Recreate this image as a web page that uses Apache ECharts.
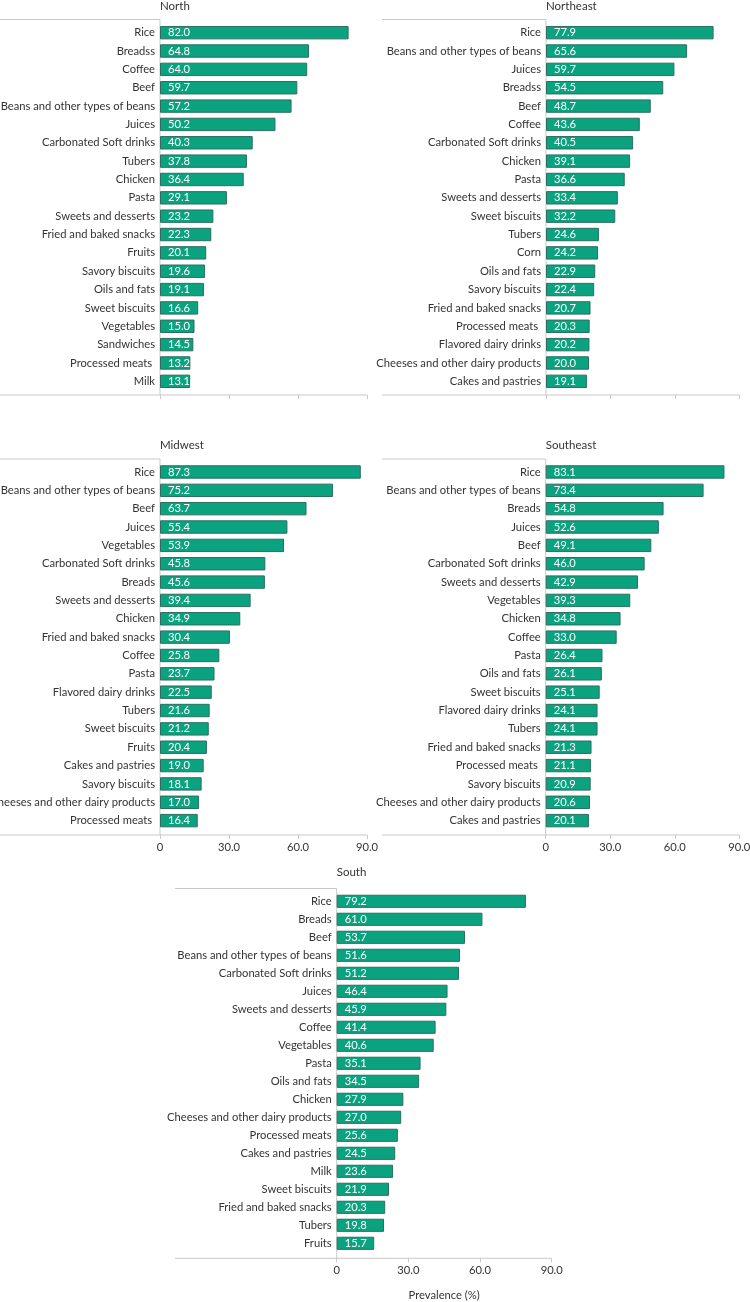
<!DOCTYPE html>
<html>
<head>
<meta charset="utf-8">
<script src="https://cdn.jsdelivr.net/npm/echarts@6/dist/echarts.min.js"></script>
<style>html,body{margin:0;padding:0;background:#fff}#c{width:750px;height:1302px}</style>
</head>
<body>
<div id="c"></div>
<script>
const northCats = ['Rice','Breadss','Coffee','Beef','Beans and other types of beans','Juices','Carbonated Soft drinks','Tubers','Chicken','Pasta','Sweets and desserts','Fried and baked snacks','Fruits','Savory biscuits','Oils and fats','Sweet biscuits','Vegetables','Sandwiches','Processed meats ','Milk'];
const northVals = [82.0,64.8,64.0,59.7,57.2,50.2,40.3,37.8,36.4,29.1,23.2,22.3,20.1,19.6,19.1,16.6,15.0,14.5,13.2,13.1];

const northeastCats = ['Rice','Beans and other types of beans','Juices','Breadss','Beef','Coffee','Carbonated Soft drinks','Chicken','Pasta','Sweets and desserts','Sweet biscuits','Tubers','Corn','Oils and fats','Savory biscuits','Fried and baked snacks','Processed meats ','Flavored dairy drinks','Cheeses and other dairy products','Cakes and pastries'];
const northeastVals = [77.9,65.6,59.7,54.5,48.7,43.6,40.5,39.1,36.6,33.4,32.2,24.6,24.2,22.9,22.4,20.7,20.3,20.2,20.0,19.1];

const midwestCats = ['Rice','Beans and other types of beans','Beef','Juices','Vegetables','Carbonated Soft drinks','Breads','Sweets and desserts','Chicken','Fried and baked snacks','Coffee','Pasta','Flavored dairy drinks','Tubers','Sweet biscuits','Fruits','Cakes and pastries','Savory biscuits','Cheeses and other dairy products','Processed meats '];
const midwestVals = [87.3,75.2,63.7,55.4,53.9,45.8,45.6,39.4,34.9,30.4,25.8,23.7,22.5,21.6,21.2,20.4,19.0,18.1,17.0,16.4];

const southeastCats = ['Rice','Beans and other types of beans','Breads','Juices','Beef','Carbonated Soft drinks','Sweets and desserts','Vegetables','Chicken','Coffee','Pasta','Oils and fats','Sweet biscuits','Flavored dairy drinks','Tubers','Fried and baked snacks','Processed meats ','Savory biscuits','Cheeses and other dairy products','Cakes and pastries'];
const southeastVals = [83.1,73.4,54.8,52.6,49.1,46.0,42.9,39.3,34.8,33.0,26.4,26.1,25.1,24.1,24.1,21.3,21.1,20.9,20.6,20.1];

const southCats = ['Rice','Breads','Beef','Beans and other types of beans','Carbonated Soft drinks','Juices','Sweets and desserts','Coffee','Vegetables','Pasta','Oils and fats','Chicken','Cheeses and other dairy products','Processed meats','Cakes and pastries','Milk','Sweet biscuits','Fried and baked snacks','Tubers','Fruits'];
const southVals = [79.2,61.0,53.7,51.6,51.2,46.4,45.9,41.4,40.6,35.1,34.5,27.9,27.0,25.6,24.5,23.6,21.9,20.3,19.8,15.7];

const xTickLabels = ['0', '30.0', '60.0', '90.0'];
const axisMin = 0, axisMax = 90, axisInterval = 30;
const xAxisTitle = 'Prevalence (%)';

const FONT = 'Lato';
const TXT = '#333333';
const LINE = '#c9c9c9';
const BAR = '#0ba37f';
const BAR_BORDER = '#2d6e5e';
const FS = 11.2;

const panels = [
  {name:'North', cats:northCats, vals:northVals, left:160, width:207, top:23.5, height:367, lineTop:19.5, axisY:395, extLeft:0, labels:false, titleTop:0},
  {name:'Northeast', cats:northeastCats, vals:northeastVals, left:546, width:193.6, top:23.5, height:367, lineTop:19.5, axisY:395, extLeft:382, labels:false, titleTop:0},
  {name:'Midwest', cats:midwestCats, vals:midwestVals, left:160, width:207, top:462.8, height:367, lineTop:459, axisY:835, extLeft:0, labels:true, titleTop:439},
  {name:'Southeast', cats:southeastCats, vals:southeastVals, left:545.7, width:193.6, top:462.8, height:367, lineTop:459, axisY:835, extLeft:382, labels:true, titleTop:439},
  {name:'South', cats:southCats, vals:southVals, left:336.7, width:215, top:892.3, height:360, lineTop:888.5, axisY:1258.3, extLeft:175, labels:true, titleTop:866.5, xname:xAxisTitle}
];

const grid = [], xAxis = [], yAxis = [], series = [], title = [], graphic = [];
panels.forEach((p, i) => {
  grid.push({left:p.left, top:p.top, width:p.width, height:p.height, containLabel:false, outerBoundsMode:'none'});
  title.push({text:p.name, left:p.left, top:p.titleTop, padding:0, textStyle:{fontFamily:FONT, fontSize:11.5, fontWeight:'normal', color:TXT}});
  xAxis.push({
    type:'value', gridIndex:i, min:axisMin, max:axisMax, interval:axisInterval,
    offset: p.axisY - (p.top + p.height),
    axisLine:{show:false},
    axisTick:{show:true, length:4, lineStyle:{color:LINE}},
    splitLine:{show:false},
    axisLabel:{show:p.labels, margin:7, fontFamily:FONT, fontSize:FS, color:TXT,
      formatter:v => xTickLabels[Math.round((v - axisMin) / axisInterval)]},
    name:p.xname || '', nameLocation:'middle', nameGap:32,
    nameTextStyle:{fontFamily:FONT, fontSize:FS, color:TXT}
  });
  yAxis.push({
    type:'category', gridIndex:i, data:p.cats, inverse:true,
    axisLine:{show:false}, axisTick:{show:false},
    axisLabel:{margin:5, fontFamily:FONT, fontSize:FS, color:TXT}
  });
  series.push({
    type:'bar', xAxisIndex:i, yAxisIndex:i, data:p.vals, barCategoryGap:'27%',
    itemStyle:{color:BAR, borderColor:BAR_BORDER, borderWidth:1},
    label:{show:true, position:'insideLeft', distance:8, color:'#ffffff', fontFamily:FONT, fontSize:FS,
      formatter:o => o.value.toFixed(1)},
    silent:true, animation:false
  });
  graphic.push({type:'polyline', silent:true, shape:{points:[[p.extLeft,p.lineTop],[p.left,p.lineTop],[p.left,p.axisY]]}, style:{stroke:LINE, lineWidth:1, fill:null}});
  graphic.push({type:'line', silent:true, shape:{x1:p.extLeft, y1:p.axisY, x2:p.left + p.width, y2:p.axisY}, style:{stroke:LINE, lineWidth:1}});
});

const chart = echarts.init(document.getElementById('c'), null, {renderer:'canvas'});
chart.setOption({animation:false, backgroundColor:'#ffffff', title, grid, xAxis, yAxis, series, graphic});
</script>
</body>
</html>
